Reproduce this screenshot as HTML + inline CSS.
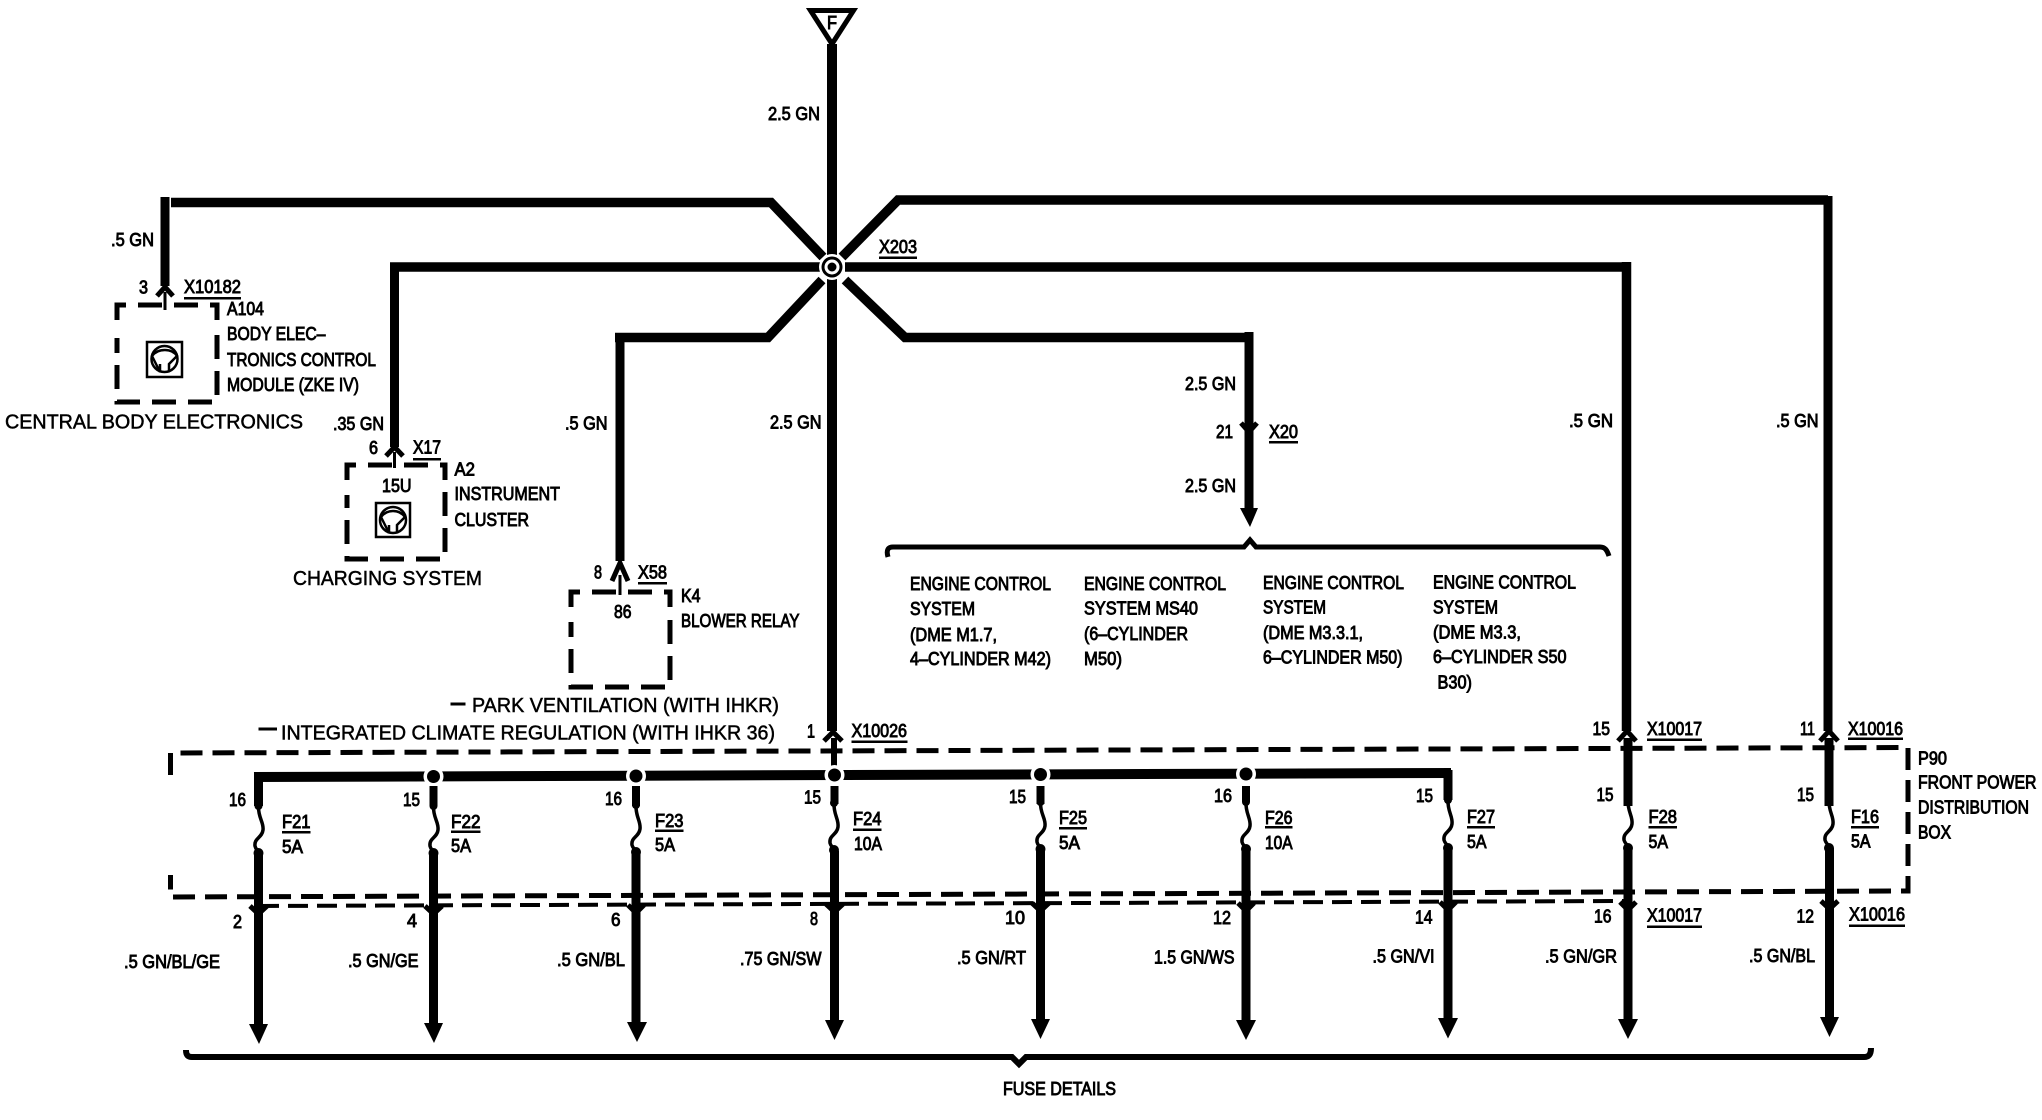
<!DOCTYPE html>
<html><head><meta charset="utf-8"><style>
html,body{margin:0;padding:0;background:#fff}
svg{display:block}
text{font-family:"Liberation Sans",sans-serif;font-size:18px;fill:#000;stroke:#000;stroke-width:.9}
.b{font-size:20px;stroke-width:.5}
.w{fill:none;stroke:#000;stroke-linejoin:miter}
.d{fill:none;stroke:#000;stroke-width:5;stroke-dasharray:24 12}
</style></head><body>
<svg width="2042" height="1120" viewBox="0 0 2042 1120" xmlns="http://www.w3.org/2000/svg">
<rect width="2042" height="1120" fill="#fff"/>

<!-- dashed boxes -->
<path class="d" style="stroke-dasharray:22 10" d="M170.5 775V753L1908 747.5V891L170.5 897V875"/>
<path class="d" style="stroke-width:4;stroke-dasharray:20 9" d="M259 906L1626 901"/>
<path class="d" d="M117 320V305H217V320M217 335V402H117V338"/>
<path class="d" d="M347 480V465H445V480M445 492V559H347V495"/>
<path class="d" d="M571 607V592H670V607M670 620V687H571V622"/>

<!-- triangle -->
<polygon points="810.5,10.5 853.5,10.5 832,44" fill="#fff" stroke="#000" stroke-width="5"/>
<text x="827" y="29" textLength="10" lengthAdjust="spacingAndGlyphs">F</text>

<!-- main wires -->
<path class="w" stroke-width="10" d="M832 44V731"/>
<path class="w" stroke-width="9.5" d="M171 202.5H771L823 257"/>
<path class="w" stroke-width="9" d="M165 197V286"/>
<path class="w" stroke-width="9.5" d="M390 267H822"/>
<path class="w" stroke-width="9" d="M394.5 263V447"/>
<path class="w" stroke-width="9.5" d="M615 337.5H768L822 280"/>
<path class="w" stroke-width="9" d="M620 333V561"/>
<path class="w" stroke-width="9.5" d="M842 257L898 200H1828"/>
<path class="w" stroke-width="9" d="M1828 196V731"/>
<path class="w" stroke-width="9.5" d="M845 267H1626.5"/>
<path class="w" stroke-width="9.5" d="M1626.5 262V731"/>
<path class="w" stroke-width="9.5" d="M845 280L905 337.5H1249"/>
<path class="w" stroke-width="9" d="M1249 332V510"/>
<polygon points="1240,508 1258,508 1250,527" fill="#000"/>
<path class="w" stroke-width="5" d="M1241 423L1249 432L1257 423"/>

<!-- center junction -->
<circle cx="832" cy="267" r="13" fill="#fff"/>
<circle cx="832" cy="267" r="10.5" fill="#000"/>
<circle cx="832" cy="267" r="7.5" fill="#fff"/>
<circle cx="832" cy="267" r="4.5" fill="#000"/>

<!-- connector stubs -->
<path class="w" stroke-width="5" d="M157 296L165 287L173 296"/>
<path class="w" stroke-width="3" d="M165 292V310"/>
<path class="w" stroke-width="5" d="M386 456L394.5 447L403 456"/>
<path class="w" stroke-width="3" d="M394.5 452V468"/>
<path class="w" stroke-width="5" d="M612 581L620 563L628 581"/>
<path class="w" stroke-width="3" d="M620 575V595"/>
<path class="w" stroke-width="5" d="M824 741L833 732L842 741"/>
<path class="w" stroke-width="6" d="M834 738V768"/>
<path class="w" stroke-width="5" d="M1618 741L1627 731L1636 741"/>
<path class="w" stroke-width="9" d="M1628 738V806"/>
<path class="w" stroke-width="5" d="M1820 741L1829 731L1838 741"/>
<path class="w" stroke-width="9" d="M1829 738V806"/>

<!-- bus -->
<path class="w" stroke-width="10" d="M254 777L1451 773"/>
<path class="w" stroke-width="9" d="M258.5 772V806"/>
<path class="w" stroke-width="9" d="M1448 770V800"/>
<circle cx="433.5" cy="776.500" r="10" fill="#fff"/><circle cx="433.500" cy="776.500" r="6.500" fill="#000"/>
<circle cx="636" cy="776" r="10" fill="#fff"/><circle cx="636" cy="776" r="6.500" fill="#000"/>
<circle cx="834.500" cy="775" r="10" fill="#fff"/><circle cx="834.500" cy="775" r="6.500" fill="#000"/>
<circle cx="1040.500" cy="774.500" r="10" fill="#fff"/><circle cx="1040.500" cy="774.500" r="6.500" fill="#000"/>
<circle cx="1246" cy="774" r="10" fill="#fff"/><circle cx="1246" cy="774" r="6.500" fill="#000"/>

<!-- drops: upper, fuse, lower, arrow -->
<g fill="none" stroke="#000">
<path stroke-width="8" d="M433.500 786V806M636 786V806M834.500 786V804M1040.500 786V804M1246 786V802"/>
<path stroke-width="3.500" d="M258.500 806C258 818 264 822 263 830C262 838 254 838 255 846C256 850 258 850 258.500 854"/>
<path stroke-width="3.500" d="M433.500 806C433 818 439 822 438 830C437 838 429 838 430 846C431 850 433 850 433.500 854"/>
<path stroke-width="3.500" d="M636 805C635.500 817 641 821 640 829C639 837 631 837 632 845C633 849 635.500 849 636 853"/>
<path stroke-width="3.500" d="M834 803C833.500 815 839 819 838 827C837 835 829 835 830 843C831 847 833.500 847 834 851"/>
<path stroke-width="3.500" d="M1040.500 802C1040 814 1046 818 1045 826C1044 834 1036 834 1037 842C1038 846 1040 846 1040.500 850"/>
<path stroke-width="3.500" d="M1246 802C1245.500 814 1251 818 1250 826C1249 834 1241 834 1242 842C1243 846 1245.500 846 1246 850"/>
<path stroke-width="3.500" d="M1448 800C1447.500 812 1453 816 1452 824C1451 832 1443 832 1444 840C1445 844 1447.500 844 1448 848"/>
<path stroke-width="3.500" d="M1628 800C1627.500 812 1633 816 1632 824C1631 832 1623 832 1624 840C1625 844 1627.500 844 1628 848"/>
<path stroke-width="3.500" d="M1829 800C1828.500 812 1834 816 1833 824C1832 832 1824 832 1825 840C1826 844 1828.500 844 1829 848"/>
<path stroke-width="9" d="M258.500 853V1026M433.500 853V1026M636 853V1024M834.500 851V1022M1040.500 850V1022M1246 850V1022M1448 848V1020M1628 848V1020M1829.500 848V1018"/>
<path stroke-width="5" d="M250 906L258.500 914L267 906M425 906L433.500 914L442 906M628 905L636 913L644 905M826 904L834.500 912L843 904M1032 903L1040.500 911L1049 903M1238 903L1246 911L1254 903M1440 902L1448 910L1456 902M1620 902L1628 910L1636 902M1821 901L1829.500 909L1838 901"/>
</g>
<g fill="#000">
<polygon points="249,1024 268,1024 259,1044"/>
<polygon points="424,1023 443,1023 434,1043"/>
<polygon points="627,1022 647,1022 637,1042"/>
<polygon points="825,1020 844,1020 834.500,1040"/>
<polygon points="1031,1019 1050,1019 1040.500,1039"/>
<polygon points="1236,1020 1256,1020 1246,1040"/>
<polygon points="1438,1018 1458,1018 1448,1038.500"/>
<polygon points="1618,1019 1638,1019 1628,1039"/>
<polygon points="1820,1017 1839,1017 1829.500,1037"/>
<circle cx="258.500" cy="806" r="4"/><circle cx="258.500" cy="853" r="5"/>
<circle cx="433.500" cy="806" r="4"/><circle cx="433.500" cy="853" r="5"/>
<circle cx="636" cy="805" r="4"/><circle cx="636" cy="852" r="5"/>
<circle cx="834" cy="803" r="4"/><circle cx="834" cy="850" r="5"/>
<circle cx="1040.500" cy="802" r="4"/><circle cx="1040.500" cy="849" r="5"/>
<circle cx="1246" cy="802" r="4"/><circle cx="1246" cy="849" r="5"/>
<circle cx="1448" cy="800" r="4"/><circle cx="1448" cy="848" r="5"/>
<circle cx="1628" cy="800" r="4"/><circle cx="1628" cy="848" r="5"/>
<circle cx="1829" cy="800" r="4"/><circle cx="1829" cy="848" r="5"/>
</g>

<!-- brackets -->
<path class="w" stroke-width="5" d="M888 557C886 550 888 547 893 547H1244L1250 540L1256 547H1600C1605 547 1607 550 1609 556"/>
<path class="w" stroke-width="6" d="M186 1050C186 1055 188 1057 192 1057H1012L1019 1064L1026 1057H1864C1869 1057 1871 1054 1871 1048"/>

<!-- icons -->
<g fill="none" stroke="#000" stroke-width="2.500">
<rect x="147" y="342" width="35" height="35"/><circle cx="164.500" cy="359" r="13"/><path d="M152 356C158 348 172 348 177 356L169 364V372M160 364V372L152 356"/>
<rect x="376" y="503" width="34" height="34"/><circle cx="393" cy="520" r="13"/><path d="M381 517C387 509 399 509 405 517L397 525V533M389 525V533L381 517"/>
</g>

<!-- underlines and dashes -->
<g fill="#000">
<rect x="184" y="297" width="57" height="2.500"/><rect x="413" y="458" width="28" height="2.500"/>
<rect x="879" y="256.500" width="38" height="2.500"/><rect x="638" y="582" width="29" height="2.500"/>
<rect x="851.500" y="740.500" width="56" height="2.500"/><rect x="1269" y="441" width="29" height="2.500"/>
<rect x="1647" y="738.500" width="55" height="2.500"/><rect x="1848" y="737.500" width="55" height="2.500"/>
<rect x="1647" y="925.500" width="55" height="2.500"/><rect x="1849" y="924.500" width="56" height="2.500"/>
<rect x="282" y="831" width="28.500" height="2.500"/><rect x="451" y="830.500" width="29.500" height="2.500"/>
<rect x="655" y="829.500" width="28.500" height="2.500"/><rect x="853" y="828.500" width="28.500" height="2.500"/>
<rect x="1059" y="827" width="28" height="2.500"/><rect x="1265" y="826" width="27.500" height="2.500"/>
<rect x="1467" y="826" width="28" height="2.500"/><rect x="1648.500" y="826" width="28.500" height="2.500"/>
<rect x="1851" y="826" width="28" height="2.500"/>
<rect x="450.500" y="702.500" width="15" height="3"/><rect x="258.500" y="727.500" width="18.500" height="3"/>
</g>

<!-- text -->
<text x="768" y="120" textLength="52" lengthAdjust="spacingAndGlyphs">2.5 GN</text>
<text x="111" y="246" textLength="43" lengthAdjust="spacingAndGlyphs">.5 GN</text>
<text x="139" y="293.500" textLength="9" lengthAdjust="spacingAndGlyphs">3</text>
<text x="184" y="293" textLength="57" lengthAdjust="spacingAndGlyphs">X10182</text>
<text x="227" y="315" textLength="37" lengthAdjust="spacingAndGlyphs">A104</text>
<text x="227" y="340" textLength="98.500" lengthAdjust="spacingAndGlyphs">BODY ELEC–</text>
<text x="227" y="366" textLength="149" lengthAdjust="spacingAndGlyphs">TRONICS CONTROL</text>
<text x="227" y="391" textLength="132" lengthAdjust="spacingAndGlyphs">MODULE (ZKE IV)</text>
<text class="b" x="5" y="428.500" textLength="298" lengthAdjust="spacingAndGlyphs">CENTRAL BODY ELECTRONICS</text>
<text x="333" y="430" textLength="51" lengthAdjust="spacingAndGlyphs">.35 GN</text>
<text x="369" y="454" textLength="9" lengthAdjust="spacingAndGlyphs">6</text>
<text x="413" y="453.500" textLength="28" lengthAdjust="spacingAndGlyphs">X17</text>
<text x="454.500" y="475.500" textLength="20.500" lengthAdjust="spacingAndGlyphs">A2</text>
<text x="382" y="492" textLength="29.500" lengthAdjust="spacingAndGlyphs">15U</text>
<text x="454.500" y="500" textLength="105.500" lengthAdjust="spacingAndGlyphs">INSTRUMENT</text>
<text x="454.500" y="526" textLength="74.500" lengthAdjust="spacingAndGlyphs">CLUSTER</text>
<text x="879" y="253" textLength="38" lengthAdjust="spacingAndGlyphs">X203</text>
<text class="b" x="293" y="585" textLength="189" lengthAdjust="spacingAndGlyphs">CHARGING SYSTEM</text>
<text x="594" y="578.500" textLength="8" lengthAdjust="spacingAndGlyphs">8</text>
<text x="638" y="578.500" textLength="29" lengthAdjust="spacingAndGlyphs">X58</text>
<text x="681" y="602" textLength="19.500" lengthAdjust="spacingAndGlyphs">K4</text>
<text x="614" y="618" textLength="17.500" lengthAdjust="spacingAndGlyphs">86</text>
<text x="681" y="627" textLength="118.500" lengthAdjust="spacingAndGlyphs">BLOWER RELAY</text>
<text class="b" x="472" y="712" textLength="307" lengthAdjust="spacingAndGlyphs">PARK VENTILATION (WITH IHKR)</text>
<text class="b" x="281" y="739.500" textLength="494" lengthAdjust="spacingAndGlyphs">INTEGRATED CLIMATE REGULATION (WITH IHKR 36)</text>
<text x="770" y="428.500" textLength="51.500" lengthAdjust="spacingAndGlyphs">2.5 GN</text>
<text x="565" y="429.500" textLength="42.500" lengthAdjust="spacingAndGlyphs">.5 GN</text>
<text x="1185" y="390" textLength="51" lengthAdjust="spacingAndGlyphs">2.5 GN</text>
<text x="1216" y="438" textLength="17" lengthAdjust="spacingAndGlyphs">21</text>
<text x="1269" y="438" textLength="29" lengthAdjust="spacingAndGlyphs">X20</text>
<text x="1185" y="492" textLength="51" lengthAdjust="spacingAndGlyphs">2.5 GN</text>
<text x="1569" y="427" textLength="44" lengthAdjust="spacingAndGlyphs">.5 GN</text>
<text x="1776" y="427" textLength="42.500" lengthAdjust="spacingAndGlyphs">.5 GN</text>

<text x="910" y="590" textLength="141" lengthAdjust="spacingAndGlyphs">ENGINE CONTROL</text>
<text x="910" y="615" textLength="65" lengthAdjust="spacingAndGlyphs">SYSTEM</text>
<text x="910" y="641" textLength="87" lengthAdjust="spacingAndGlyphs">(DME M1.7,</text>
<text x="910" y="665" textLength="141" lengthAdjust="spacingAndGlyphs">4–CYLINDER M42)</text>
<text x="1084" y="590" textLength="142" lengthAdjust="spacingAndGlyphs">ENGINE CONTROL</text>
<text x="1084" y="614.500" textLength="114" lengthAdjust="spacingAndGlyphs">SYSTEM MS40</text>
<text x="1084" y="640" textLength="104" lengthAdjust="spacingAndGlyphs">(6–CYLINDER</text>
<text x="1084" y="665" textLength="38" lengthAdjust="spacingAndGlyphs">M50)</text>
<text x="1263" y="589" textLength="141" lengthAdjust="spacingAndGlyphs">ENGINE CONTROL</text>
<text x="1263" y="613.500" textLength="63" lengthAdjust="spacingAndGlyphs">SYSTEM</text>
<text x="1263" y="639" textLength="100" lengthAdjust="spacingAndGlyphs">(DME M3.3.1,</text>
<text x="1263" y="663.500" textLength="139.500" lengthAdjust="spacingAndGlyphs">6–CYLINDER M50)</text>
<text x="1433" y="588.500" textLength="143" lengthAdjust="spacingAndGlyphs">ENGINE CONTROL</text>
<text x="1433" y="613.500" textLength="65" lengthAdjust="spacingAndGlyphs">SYSTEM</text>
<text x="1433" y="638.500" textLength="88" lengthAdjust="spacingAndGlyphs">(DME M3.3,</text>
<text x="1433" y="663" textLength="133.500" lengthAdjust="spacingAndGlyphs">6–CYLINDER S50</text>
<text x="1437.500" y="688.500" textLength="34.500" lengthAdjust="spacingAndGlyphs">B30)</text>

<text x="807" y="737.500" textLength="8" lengthAdjust="spacingAndGlyphs">1</text>
<text x="851.500" y="737" textLength="55.500" lengthAdjust="spacingAndGlyphs">X10026</text>
<text x="1592.500" y="735" textLength="17.500" lengthAdjust="spacingAndGlyphs">15</text>
<text x="1647" y="735" textLength="55" lengthAdjust="spacingAndGlyphs">X10017</text>
<text x="1800" y="735" textLength="15" lengthAdjust="spacingAndGlyphs">11</text>
<text x="1848" y="735" textLength="55" lengthAdjust="spacingAndGlyphs">X10016</text>
<text x="1918" y="764.500" textLength="29" lengthAdjust="spacingAndGlyphs">P90</text>
<text x="1918" y="788.500" textLength="118.500" lengthAdjust="spacingAndGlyphs">FRONT POWER</text>
<text x="1918" y="813.500" textLength="111" lengthAdjust="spacingAndGlyphs">DISTRIBUTION</text>
<text x="1918" y="838.500" textLength="33" lengthAdjust="spacingAndGlyphs">BOX</text>

<text x="229" y="806" textLength="17" lengthAdjust="spacingAndGlyphs">16</text>
<text x="403" y="806" textLength="17" lengthAdjust="spacingAndGlyphs">15</text>
<text x="605" y="805" textLength="17" lengthAdjust="spacingAndGlyphs">16</text>
<text x="804" y="803.500" textLength="17" lengthAdjust="spacingAndGlyphs">15</text>
<text x="1009" y="803" textLength="17" lengthAdjust="spacingAndGlyphs">15</text>
<text x="1214" y="802" textLength="18" lengthAdjust="spacingAndGlyphs">16</text>
<text x="1416" y="802" textLength="17" lengthAdjust="spacingAndGlyphs">15</text>
<text x="1596.500" y="801" textLength="17" lengthAdjust="spacingAndGlyphs">15</text>
<text x="1797" y="801" textLength="17" lengthAdjust="spacingAndGlyphs">15</text>

<text x="282" y="828" textLength="28.500" lengthAdjust="spacingAndGlyphs">F21</text>
<text x="282" y="853" textLength="21" lengthAdjust="spacingAndGlyphs">5A</text>
<text x="451" y="828" textLength="29.500" lengthAdjust="spacingAndGlyphs">F22</text>
<text x="451" y="852" textLength="20" lengthAdjust="spacingAndGlyphs">5A</text>
<text x="655" y="827" textLength="28.500" lengthAdjust="spacingAndGlyphs">F23</text>
<text x="655" y="851" textLength="20" lengthAdjust="spacingAndGlyphs">5A</text>
<text x="853" y="825" textLength="28.500" lengthAdjust="spacingAndGlyphs">F24</text>
<text x="854" y="850" textLength="28" lengthAdjust="spacingAndGlyphs">10A</text>
<text x="1059" y="824" textLength="28" lengthAdjust="spacingAndGlyphs">F25</text>
<text x="1059" y="849" textLength="21" lengthAdjust="spacingAndGlyphs">5A</text>
<text x="1265" y="824" textLength="27.500" lengthAdjust="spacingAndGlyphs">F26</text>
<text x="1265" y="849" textLength="27.500" lengthAdjust="spacingAndGlyphs">10A</text>
<text x="1467" y="823" textLength="28" lengthAdjust="spacingAndGlyphs">F27</text>
<text x="1467" y="848" textLength="19.500" lengthAdjust="spacingAndGlyphs">5A</text>
<text x="1648.500" y="823" textLength="28.500" lengthAdjust="spacingAndGlyphs">F28</text>
<text x="1648.500" y="848" textLength="19.500" lengthAdjust="spacingAndGlyphs">5A</text>
<text x="1851" y="823" textLength="28" lengthAdjust="spacingAndGlyphs">F16</text>
<text x="1851" y="847.500" textLength="19.500" lengthAdjust="spacingAndGlyphs">5A</text>

<text x="233" y="928" textLength="9" lengthAdjust="spacingAndGlyphs">2</text>
<text x="407" y="927" textLength="10" lengthAdjust="spacingAndGlyphs">4</text>
<text x="611" y="926" textLength="9.500" lengthAdjust="spacingAndGlyphs">6</text>
<text x="810" y="925" textLength="8" lengthAdjust="spacingAndGlyphs">8</text>
<text x="1005" y="924" textLength="20" lengthAdjust="spacingAndGlyphs">10</text>
<text x="1213" y="924" textLength="18" lengthAdjust="spacingAndGlyphs">12</text>
<text x="1415" y="923.500" textLength="17.500" lengthAdjust="spacingAndGlyphs">14</text>
<text x="1594" y="922.500" textLength="17.500" lengthAdjust="spacingAndGlyphs">16</text>
<text x="1647" y="921.500" textLength="55" lengthAdjust="spacingAndGlyphs">X10017</text>
<text x="1796.500" y="922.500" textLength="17.500" lengthAdjust="spacingAndGlyphs">12</text>
<text x="1849" y="920.500" textLength="56" lengthAdjust="spacingAndGlyphs">X10016</text>

<text x="124" y="968" textLength="96" lengthAdjust="spacingAndGlyphs">.5 GN/BL/GE</text>
<text x="348" y="967" textLength="70.500" lengthAdjust="spacingAndGlyphs">.5 GN/GE</text>
<text x="557" y="966" textLength="68" lengthAdjust="spacingAndGlyphs">.5 GN/BL</text>
<text x="740" y="965" textLength="81.500" lengthAdjust="spacingAndGlyphs">.75 GN/SW</text>
<text x="957" y="964" textLength="69" lengthAdjust="spacingAndGlyphs">.5 GN/RT</text>
<text x="1154" y="963.500" textLength="80.500" lengthAdjust="spacingAndGlyphs">1.5 GN/WS</text>
<text x="1372.500" y="962.500" textLength="62" lengthAdjust="spacingAndGlyphs">.5 GN/VI</text>
<text x="1545" y="962.500" textLength="72" lengthAdjust="spacingAndGlyphs">.5 GN/GR</text>
<text x="1749" y="962" textLength="66" lengthAdjust="spacingAndGlyphs">.5 GN/BL</text>
<text x="1003" y="1095" textLength="113" lengthAdjust="spacingAndGlyphs">FUSE DETAILS</text>
</svg>
</body></html>
